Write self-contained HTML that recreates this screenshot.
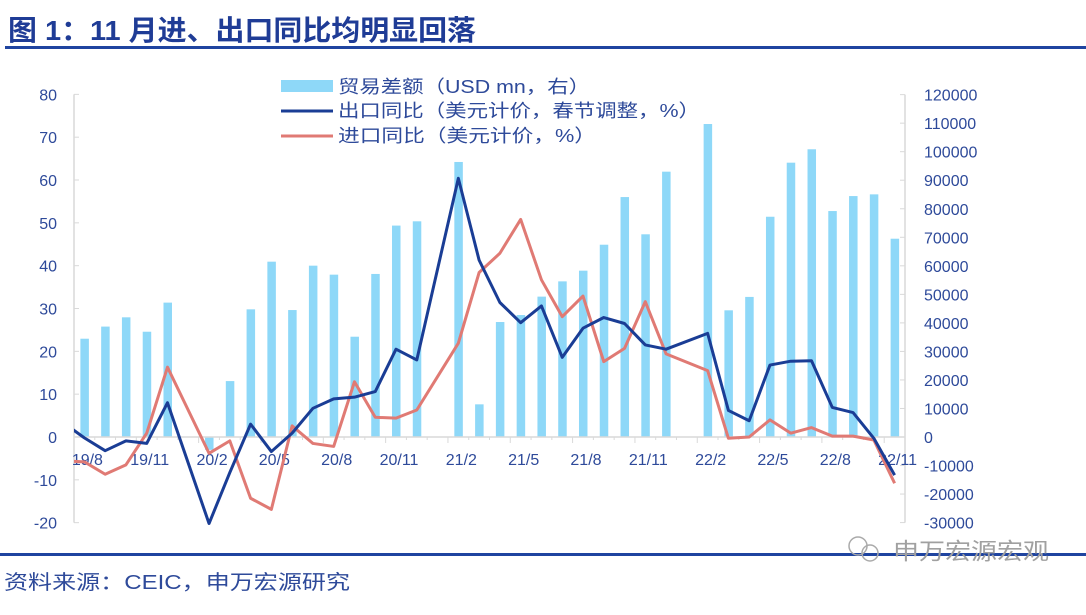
<!DOCTYPE html>
<html><head><meta charset="utf-8"><style>
html,body{margin:0;padding:0;background:#fff;}
body{width:1086px;height:610px;overflow:hidden;font-family:"Liberation Sans","Noto Sans CJK SC",sans-serif;}
</style></head><body>
<svg id="c" width="1086" height="610" xmlns="http://www.w3.org/2000/svg" style="font-family:'Liberation Sans','Noto Sans CJK SC',sans-serif">
<text x="8" y="40" font-size="28" font-weight="bold" fill="#1f3c96" textLength="468" lengthAdjust="spacingAndGlyphs">图 1：11 月进、出口同比均明显回落</text>
<rect x="5" y="46" width="1081" height="3" fill="#1f44a0"/>
<rect x="0" y="553" width="1086" height="3" fill="#1f44a0"/>
<text x="4" y="589" font-size="20" fill="#2e4a9a" textLength="346" lengthAdjust="spacingAndGlyphs">资料来源：CEIC，申万宏源研究</text>
<g>
<circle cx="858" cy="546" r="9" fill="none" stroke="#aaaaaa" stroke-width="1.5"/>
<circle cx="870" cy="553" r="8" fill="none" stroke="#aaaaaa" stroke-width="1.5"/>
<text x="893" y="559" font-size="23" fill="#a0a0a0" textLength="156" lengthAdjust="spacingAndGlyphs">申万宏源宏观</text>
</g>
<g id="legend">
<rect x="281" y="80" width="52" height="12" fill="#8ed8f8"/>
<text x="338" y="93" font-size="18" fill="#2e4a9a" textLength="252" lengthAdjust="spacingAndGlyphs">贸易差额（USD mn，右）</text>
<line x1="281" y1="111" x2="333" y2="111" stroke="#1a3d95" stroke-width="3"/>
<text x="338" y="117" font-size="18" fill="#2e4a9a" textLength="362" lengthAdjust="spacingAndGlyphs">出口同比（美元计价，春节调整，%）</text>
<line x1="281" y1="136" x2="333" y2="136" stroke="#e07a74" stroke-width="3"/>
<text x="338" y="142" font-size="18" fill="#2e4a9a" textLength="258" lengthAdjust="spacingAndGlyphs">进口同比（美元计价，%）</text>
</g>
</svg>
<script>
const months = ["19/8","19/9","19/10","19/11","19/12","20/1","20/2","20/3","20/4","20/5","20/6","20/7","20/8","20/9","20/10","20/11","20/12","21/1","21/2","21/3","21/4","21/5","21/6","21/7","21/8","21/9","21/10","21/11","21/12","22/1","22/2","22/3","22/4","22/5","22/6","22/7","22/8","22/9","22/10","22/11"];
const tradeBalance = [34450,38700,41950,36900,47100,null,-4500,19600,44750,61450,44500,60050,56900,35150,57150,74100,75600,null,96400,11450,40300,42750,49200,54550,58300,67400,84100,71050,93000,null,109700,44400,49100,77200,96150,100850,79200,84450,85050,69500];
const exportYoY = [-0.2,-3.2,-0.9,-1.5,8.0,null,-20.2,-8.3,3.0,-3.4,0.9,6.7,8.9,9.3,10.6,20.5,18.0,null,60.4,41.3,31.4,26.7,30.6,18.6,25.4,27.9,26.5,21.5,20.5,null,24.2,6.2,3.8,16.8,17.7,17.8,6.9,5.7,-0.3,-8.9];
const importYoY = [-5.8,-8.7,-6.5,0.9,16.3,null,-3.8,-0.9,-14.3,-16.9,2.6,-1.5,-2.2,12.9,4.6,4.4,6.3,null,21.9,38.4,42.9,50.8,36.7,28.1,32.9,17.6,20.7,31.6,19.4,null,15.5,-0.3,0.0,4.0,0.9,2.2,0.2,0.2,-0.7,-10.8];
const prevExport = 3.3, prevImport = -5.6;
const leftTicks = [80,70,60,50,40,30,20,10,0,-10,-20];
const rightTicks = [120000,110000,100000,90000,80000,70000,60000,50000,40000,30000,20000,10000,0,-10000,-20000,-30000];
const xLabelEvery = 3;

const NS="http://www.w3.org/2000/svg", svg=document.getElementById('c');
const X0=74, X1=905, Y0=437, n=months.length, slot=(X1-X0)/n;
const xC=i=>X0+slot*(i+0.5);
const yL=v=>Y0-(v)*4.283;
const yR=v=>Y0-(v)*0.002853;
function mk(t,a,p){const e=document.createElementNS(NS,t);for(const k in a)e.setAttribute(k,a[k]);(p||svg).appendChild(e);return e;}
const cp=mk('clipPath',{id:'cp'});
mk('rect',{x:X0,y:0,width:X1-X0+20,height:610},cp);
const g=mk('g',{});


const la=mk('line',{x1:X0,y1:yL(80),x2:X0,y2:yL(-20),stroke:'#d9d9d9','stroke-width':1.5},g);


const ra=mk('line',{x1:X1,y1:yR(120000),x2:X1,y2:yR(-30000),stroke:'#d9d9d9','stroke-width':1.5},g);


leftTicks.forEach(v=>{
  mk('line',{x1:X0,y1:yL(v),x2:X0+5,y2:yL(v),stroke:'#d9d9d9'},g);
  const t=mk('text',{x:57,y:yL(v)+6,'text-anchor':'end','font-size':16,fill:'#2e4a9a'},g);
  t.textContent=v;
  
  
});
rightTicks.forEach(v=>{
  mk('line',{x1:X1-5,y1:yR(v),x2:X1,y2:yR(v),stroke:'#d9d9d9'},g);
  const t=mk('text',{x:924,y:yR(v)+6,'font-size':16,fill:'#2e4a9a'},g);
  t.textContent=v;
  
  
});
tradeBalance.forEach((v,i)=>{
  if(v===null)return;
  const y=Math.min(yR(v),yR(0)), h=Math.abs(yR(v)-yR(0));
  const b=mk('rect',{x:xC(i)-4,y:y,width:8.5,height:h,fill:'#8ed8f8'},g);
  
  
});
const z=mk('line',{x1:X0,y1:Y0,x2:X1,y2:Y0,stroke:'#d9d9d9','stroke-width':1.5},g);


for(let i=0;i<=n;i++){mk('line',{x1:X0+slot*i,y1:Y0,x2:X0+slot*i,y2:Y0+(i%3==0?6:3),stroke:'#d9d9d9'},g);}
months.forEach((m,i)=>{
  if(i%xLabelEvery)return;
  const t=mk('text',{x:xC(i)+3,y:Y0+28,'text-anchor':'middle','font-size':16,fill:'#2e4a9a'},g);
  t.textContent=m;
  
  
});
function line(arr,prev,color,name){
  let pts=[[xC(-1),yL(prev)]];
  arr.forEach((v,i)=>{if(v!==null)pts.push([xC(i),yL(v)]);});
  const p=mk('polyline',{points:pts.map(p=>p.join(',')).join(' '),fill:'none',stroke:color,'stroke-width':3,'stroke-linejoin':'round','clip-path':'url(#cp)'},g);
  
  
}
line(importYoY,prevImport,'#e07a74','import-yoy-line');
line(exportYoY,prevExport,'#1a3d95','export-yoy-line');
</script>
</body></html>
